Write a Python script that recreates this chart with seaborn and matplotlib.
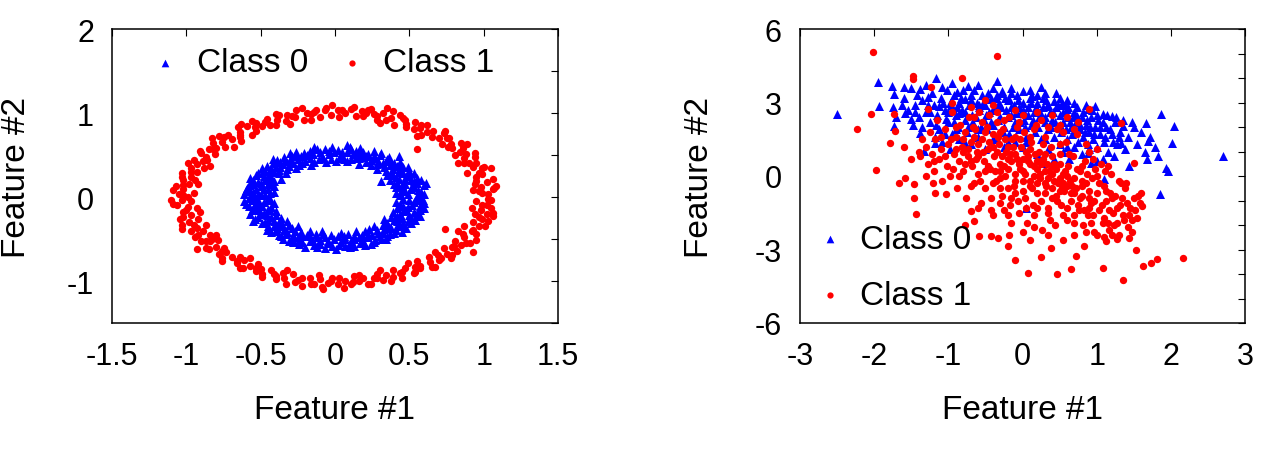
import matplotlib
matplotlib.use("Agg")
import matplotlib.pyplot as plt
import seaborn as sns
import pandas as pd

# ---------------- data: left panel (two rings) ----------------
rings_class0 = [
    (0.55, 0.01), (0.44, 0.02), (0.60, 0.04), (0.49, 0.04), (0.41, 0.05), (0.56, 0.08), (0.51, 0.09), (0.45, 0.09),
    (0.60, 0.14), (0.52, 0.13), (0.41, 0.12), (0.55, 0.17), (0.47, 0.16), (0.53, 0.19), (0.42, 0.17), (0.55, 0.23),
    (0.47, 0.22), (0.43, 0.21), (0.50, 0.27), (0.37, 0.20), (0.46, 0.28), (0.50, 0.31), (0.39, 0.26), (0.43, 0.30),
    (0.35, 0.26), (0.46, 0.36), (0.39, 0.33), (0.42, 0.37), (0.34, 0.31), (0.44, 0.42), (0.37, 0.38), (0.33, 0.36),
    (0.37, 0.43), (0.28, 0.33), (0.34, 0.43), (0.36, 0.48), (0.28, 0.39), (0.29, 0.43), (0.24, 0.38), (0.30, 0.50),
    (0.24, 0.44), (0.26, 0.49), (0.21, 0.42), (0.26, 0.55), (0.21, 0.49), (0.16, 0.39), (0.19, 0.54), (0.16, 0.46),
    (0.16, 0.52), (0.17, 0.58), (0.11, 0.45), (0.12, 0.51), (0.11, 0.57), (0.08, 0.43), (0.08, 0.54), (0.08, 0.62),
    (0.04, 0.50), (0.03, 0.47), (0.02, 0.56), (0.01, 0.43), (0.43, 0.49), (0.31, 0.19), (0.61, 0.17),
    (-0.01, 0.53), (-0.02, 0.59), (-0.03, 0.45), (-0.04, 0.51), (-0.07, 0.57), (-0.06, 0.42), (-0.10, 0.54),
    (-0.09, 0.48), (-0.14, 0.59), (-0.11, 0.45), (-0.15, 0.51), (-0.17, 0.55), (-0.14, 0.42), (-0.17, 0.47),
    (-0.21, 0.52), (-0.16, 0.38), (-0.23, 0.49), (-0.26, 0.54), (-0.22, 0.41), (-0.25, 0.45), (-0.29, 0.49),
    (-0.24, 0.38), (-0.28, 0.41), (-0.34, 0.48), (-0.26, 0.34), (-0.33, 0.43), (-0.31, 0.37), (-0.37, 0.42),
    (-0.42, 0.45), (-0.32, 0.33), (-0.37, 0.36), (-0.42, 0.40), (-0.33, 0.29), (-0.38, 0.32), (-0.43, 0.34),
    (-0.38, 0.28), (-0.49, 0.34), (-0.44, 0.30), (-0.36, 0.22), (-0.49, 0.29), (-0.43, 0.24), (-0.48, 0.25),
    (-0.53, 0.26), (-0.41, 0.19), (-0.47, 0.20), (-0.57, 0.23), (-0.45, 0.16), (-0.52, 0.18), (-0.41, 0.13),
    (-0.56, 0.16), (-0.50, 0.13), (-0.45, 0.10), (-0.59, 0.11), (-0.53, 0.09), (-0.41, 0.06), (-0.57, 0.07),
    (-0.50, 0.04), (-0.61, 0.04), (-0.47, 0.02), (-0.55, 0.01),
    (-0.58, -0.01), (-0.44, -0.02), (-0.52, -0.04), (-0.61, -0.05), (-0.48, -0.06), (-0.54, -0.08), (-0.41, -0.07),
    (-0.58, -0.11), (-0.49, -0.11), (-0.54, -0.14), (-0.43, -0.12), (-0.51, -0.15), (-0.57, -0.20), (-0.44, -0.16),
    (-0.50, -0.20), (-0.40, -0.17), (-0.52, -0.24), (-0.46, -0.22), (-0.55, -0.29), (-0.40, -0.22), (-0.45, -0.27),
    (-0.49, -0.31), (-0.36, -0.25), (-0.41, -0.29), (-0.45, -0.34), (-0.38, -0.30), (-0.46, -0.39), (-0.32, -0.28),
    (-0.39, -0.37), (-0.35, -0.34), (-0.40, -0.41), (-0.31, -0.33), (-0.34, -0.39), (-0.38, -0.45), (-0.29, -0.37),
    (-0.33, -0.44), (-0.35, -0.50), (-0.25, -0.35), (-0.28, -0.45), (-0.29, -0.49), (-0.23, -0.42), (-0.28, -0.53),
    (-0.22, -0.46), (-0.24, -0.51), (-0.17, -0.41), (-0.22, -0.54), (-0.17, -0.47), (-0.20, -0.59), (-0.13, -0.44),
    (-0.15, -0.52), (-0.14, -0.57), (-0.09, -0.41), (-0.10, -0.51), (-0.10, -0.56), (-0.07, -0.48), (-0.07, -0.61),
    (-0.05, -0.55), (-0.03, -0.45), (-0.02, -0.58), (-0.01, -0.50),
    (0.01, -0.62), (0.02, -0.47), (0.04, -0.54), (0.04, -0.43), (0.07, -0.58), (0.07, -0.50), (0.10, -0.55),
    (0.09, -0.44), (0.13, -0.58), (0.13, -0.50), (0.13, -0.46), (0.17, -0.55), (0.14, -0.40), (0.19, -0.52),
    (0.18, -0.45), (0.24, -0.56), (0.22, -0.48), (0.20, -0.41), (0.27, -0.51), (0.25, -0.45), (0.23, -0.38),
    (0.30, -0.47), (0.34, -0.50), (0.28, -0.39), (0.32, -0.43), (0.26, -0.34), (0.37, -0.44), (0.33, -0.38),
    (0.40, -0.43), (0.32, -0.33), (0.38, -0.37), (0.45, -0.42), (0.35, -0.31), (0.42, -0.35), (0.33, -0.26),
    (0.46, -0.35), (0.42, -0.29), (0.46, -0.31), (0.38, -0.24), (0.51, -0.31), (0.45, -0.25), (0.42, -0.23),
    (0.51, -0.25), (0.39, -0.18), (0.50, -0.21), (0.57, -0.23), (0.46, -0.17), (0.53, -0.18), (0.42, -0.13),
    (0.57, -0.16), (0.49, -0.12), (0.46, -0.11), (0.57, -0.11), (0.52, -0.09), (0.41, -0.06), (0.60, -0.07),
    (0.50, -0.04), (0.55, -0.04), (0.46, -0.02), (0.57, -0.01), (0.545, -0.23),
    (0.58, 0.06), (0.47, 0.07), (0.53, 0.12), (0.58, 0.20), (0.45, 0.14), (0.51, 0.20), (0.40, 0.16), (0.48, 0.25),
    (0.53, 0.28), (0.41, 0.24), (0.44, 0.34), (0.49, 0.36), (0.38, 0.30), (0.40, 0.40), (0.32, 0.40), (0.35, 0.45),
    (0.27, 0.46), (0.31, 0.52), (0.22, 0.51), (0.19, 0.48), (0.14, 0.55), (0.14, 0.47), (0.10, 0.60), (0.05, 0.54),
    (0.06, 0.45), (-0.04, 0.55), (-0.08, 0.46), (-0.12, 0.57), (-0.19, 0.50), (-0.20, 0.43), (-0.27, 0.50),
    (-0.30, 0.44), (-0.35, 0.39), (-0.39, 0.44), (-0.40, 0.36), (-0.46, 0.37), (-0.41, 0.30), (-0.47, 0.31),
    (-0.52, 0.28), (-0.45, 0.23), (-0.55, 0.20), (-0.50, 0.17), (-0.43, 0.15), (-0.58, 0.14), (-0.48, 0.09),
    (-0.55, 0.06), (-0.60, 0.08), (-0.44, 0.05), (-0.52, 0.02), (-0.30, 0.52), (-0.56, -0.03), (-0.46, -0.04),
    (-0.60, -0.08), (-0.51, -0.09), (-0.45, -0.14), (-0.56, -0.16), (-0.48, -0.19), (-0.54, -0.26), (-0.43, -0.24),
    (-0.47, -0.30), (-0.41, -0.35), (-0.36, -0.32), (-0.43, -0.42), (-0.32, -0.42), (-0.36, -0.47), (-0.27, -0.40),
    (-0.31, -0.52), (-0.25, -0.48), (-0.19, -0.45), (-0.24, -0.56), (-0.17, -0.52), (-0.12, -0.48), (-0.12, -0.60),
    (-0.05, -0.52), (-0.08, -0.44), (0.03, -0.57), (0.06, -0.46), (0.10, -0.60), (0.11, -0.52), (0.16, -0.48),
    (0.20, -0.57), (0.22, -0.44), (0.26, -0.53), (0.29, -0.43), (0.31, -0.50), (0.35, -0.46), (0.36, -0.36),
    (0.41, -0.39), (0.44, -0.33), (0.48, -0.37), (0.40, -0.27), (0.49, -0.28), (0.54, -0.27), (0.44, -0.20),
    (0.55, -0.19), (0.48, -0.15), (0.60, -0.13), (0.53, -0.06), (0.44, -0.08), (0.59, -0.03),
]

rings_class1 = [
    (1.03, 0.04), (0.97, 0.07), (1.06, 0.09), (0.98, 0.12), (0.94, 0.15), (1.02, 0.18), (1.06, 0.22), (0.95, 0.24),
    (0.97, 0.28), (0.89, 0.29), (0.99, 0.34), (0.93, 0.36), (0.95, 0.40), (0.87, 0.41), (0.94, 0.48), (0.87, 0.46),
    (0.88, 0.51), (0.81, 0.50), (0.86, 0.58), (0.79, 0.58), (0.85, 0.64), (0.78, 0.63), (0.72, 0.63), (0.75, 0.70),
    (0.70, 0.70), (0.73, 0.76), (0.65, 0.72), (0.66, 0.78), (0.58, 0.74), (0.62, 0.86), (0.57, 0.82), (0.53, 0.81),
    (0.54, 0.89), (0.48, 0.87), (0.47, 0.92), (0.40, 0.86), (0.44, 0.98), (0.38, 0.94), (0.34, 0.92), (0.32, 1.00),
    (0.28, 0.92), (0.26, 0.99), (0.24, 1.05), (0.19, 0.97), (0.18, 1.02), (0.14, 0.96), (0.11, 1.05), (0.07, 1.00),
    (0.03, 0.95), (0.02, 1.03), (0.55, 0.57), (0.35, 1.06), (0.22, 1.04), (1.085, 0.13),
    (-0.02, 1.10), (-0.03, 0.98), (-0.07, 1.03), (-0.10, 0.95), (-0.13, 1.04), (-0.16, 0.99), (-0.19, 1.00),
    (-0.21, 0.92), (-0.26, 1.03), (-0.27, 0.95), (-0.32, 0.98), (-0.33, 0.91), (-0.38, 0.98), (-0.39, 0.92),
    (-0.40, 0.86), (-0.46, 0.93), (-0.47, 0.89), (-0.49, 0.84), (-0.56, 0.90), (-0.54, 0.83), (-0.59, 0.84),
    (-0.56, 0.74), (-0.65, 0.83), (-0.64, 0.77), (-0.64, 0.71), (-0.72, 0.74), (-0.69, 0.69), (-0.78, 0.73),
    (-0.76, 0.66), (-0.74, 0.60), (-0.82, 0.64), (-0.80, 0.58), (-0.85, 0.57), (-0.81, 0.51), (-0.91, 0.55),
    (-0.87, 0.48), (-0.86, 0.44), (-0.95, 0.44), (-0.93, 0.39), (-0.88, 0.34), (-0.97, 0.35), (-0.93, 0.30),
    (-1.03, 0.29), (-0.97, 0.24), (-0.94, 0.20), (-1.02, 0.20), (-0.98, 0.15), (-1.07, 0.13), (-1.02, 0.09),
    (-0.95, 0.05), (-1.05, 0.04), (-0.99, 0.00), (-1.10, -0.03), (-0.68, 0.59),
    (-1.03, -0.04), (-0.97, -0.05), (-1.06, -0.09), (-0.99, -0.12), (-0.93, -0.13), (-1.02, -0.18), (-0.97, -0.21),
    (-1.04, -0.26), (-0.92, -0.26), (-0.98, -0.30), (-0.95, -0.33), (-0.87, -0.33), (-0.97, -0.41), (-0.89, -0.41),
    (-0.92, -0.45), (-0.84, -0.45), (-0.90, -0.52), (-0.84, -0.52), (-0.79, -0.51), (-0.87, -0.61), (-0.80, -0.60),
    (-0.75, -0.61), (-0.78, -0.68), (-0.73, -0.66), (-0.76, -0.73), (-0.69, -0.72), (-0.64, -0.71), (-0.66, -0.78),
    (-0.61, -0.75), (-0.64, -0.85), (-0.57, -0.82), (-0.52, -0.80), (-0.53, -0.88), (-0.50, -0.86), (-0.49, -0.92),
    (-0.43, -0.87), (-0.41, -0.92), (-0.40, -0.98), (-0.35, -0.91), (-0.34, -0.97), (-0.28, -0.92), (-0.27, -1.01),
    (-0.22, -0.97), (-0.22, -1.06), (-0.17, -0.96), (-0.14, -1.03), (-0.10, -0.98), (-0.09, -1.07), (-0.05, -1.02),
    (-0.02, -0.96), (-0.93, -0.62), (-0.83, -0.50),
    (0.02, -1.03), (0.03, -0.97), (0.07, -1.00), (0.11, -1.04), (0.13, -0.94), (0.16, -1.00), (0.19, -0.96),
    (0.24, -1.03), (0.26, -0.97), (0.28, -0.92), (0.32, -0.99), (0.34, -0.93), (0.39, -0.95), (0.39, -0.87),
    (0.45, -0.96), (0.45, -0.89), (0.47, -0.85), (0.54, -0.89), (0.54, -0.83), (0.57, -0.85), (0.55, -0.76),
    (0.65, -0.83), (0.64, -0.77), (0.63, -0.72), (0.70, -0.75), (0.69, -0.69), (0.78, -0.73), (0.75, -0.68),
    (0.73, -0.61), (0.82, -0.64), (0.80, -0.58), (0.85, -0.57), (0.81, -0.52), (0.91, -0.55), (0.87, -0.48),
    (0.86, -0.44), (0.95, -0.44), (0.93, -0.39), (0.87, -0.35), (0.97, -0.35), (0.93, -0.30), (1.03, -0.29),
    (0.97, -0.24), (0.94, -0.20), (1.02, -0.20), (0.98, -0.15), (1.05, -0.13), (1.02, -0.09), (0.95, -0.05),
    (1.05, -0.04), (0.74, -0.385), (0.93, -0.66), (1.06, -0.23),
    (0.99, 0.05), (1.07, 0.11), (0.95, 0.19), (0.99, 0.27), (1.00, 0.36), (0.90, 0.40), (0.94, 0.52), (0.84, 0.54),
    (0.76, 0.59), (0.77, 0.70), (0.74, 0.79), (0.62, 0.77), (0.58, 0.86), (0.48, 0.83), (0.46, 0.94), (0.39, 1.02),
    (0.28, 0.96), (0.21, 1.00), (0.13, 1.07), (0.05, 1.04), (0.93, 0.08), (0.83, 0.40), (0.55, 0.73), (0.30, 0.88),
    (0.89, 0.63), (1.05, 0.34),
    (-0.06, 1.06), (-0.14, 1.01), (-0.22, 1.06), (-0.29, 0.96), (-0.40, 0.99), (-0.44, 0.86), (-0.53, 0.88),
    (-0.63, 0.87), (-0.64, 0.74), (-0.75, 0.72), (-0.83, 0.70), (-0.82, 0.57), (-0.90, 0.52), (-0.89, 0.43),
    (-0.99, 0.40), (-0.97, 0.30), (-1.03, 0.24), (-1.02, 0.14), (-1.09, 0.08), (-1.02, 0.02), (-0.30, 0.87),
    (-0.63, 0.67), (-0.84, 0.37), (-0.92, 0.16), (-0.53, 0.78), (-0.16, 0.92),
    (-1.09, -0.08), (-1.00, -0.16), (-1.02, -0.24), (-1.03, -0.33), (-0.93, -0.37), (-0.94, -0.48), (-0.87, -0.52),
    (-0.85, -0.62), (-0.76, -0.64), (-0.76, -0.76), (-0.66, -0.76), (-0.62, -0.85), (-0.53, -0.85), (-0.49, -0.95),
    (-0.40, -0.94), (-0.33, -1.03), (-0.25, -0.99), (-0.16, -1.04), (-0.08, -1.09), (-0.03, -1.00), (-0.91, -0.18),
    (-0.80, -0.45), (-0.57, -0.73), (-0.32, -0.87), (-0.11, -0.93), (-1.03, -0.38),
    (0.06, -1.08), (0.12, -1.01), (0.22, -1.04), (0.28, -0.97), (0.38, -1.00), (0.44, -0.91), (0.53, -0.91),
    (0.57, -0.82), (0.67, -0.83), (0.71, -0.73), (0.79, -0.69), (0.79, -0.60), (0.88, -0.55), (0.95, -0.51),
    (0.92, -0.41), (1.01, -0.35), (0.99, -0.26), (1.06, -0.19), (0.99, -0.10), (1.03, -0.02), (0.30, -0.87),
    (0.49, -0.78), (0.67, -0.65), (0.83, -0.40), (0.92, -0.13), (0.16, -0.93),
]

# ---------------- data: right panel (two overlapping blobs) ----------------
blobs_class0 = [
    (-2.50, 2.52), (-1.95, 3.82), (-1.93, 2.84), (-1.76, 3.68), (-1.73, 3.34), (-1.74, 2.80), (-1.73, 2.05),
    (-1.60, 3.62), (-1.58, 2.59), (-1.51, 2.32), (-1.38, 3.55), (-1.38, 1.77), (-1.28, 3.21), (-1.17, 4.02),
    (-1.13, 2.86), (-1.08, 3.62), (-1.03, 2.32), (-0.98, 3.00), (-0.88, 3.41), (-0.85, 2.59), (-0.78, 3.14),
    (-0.73, 3.68), (-0.68, 2.18), (-0.58, 2.80), (-0.48, 3.14), (-0.35, 3.89), (-0.33, 2.86), (-0.28, 3.48),
    (-0.18, 3.14), (-0.08, 2.59), (0.00, 3.48), (0.13, 3.27), (0.25, 3.62), (0.33, 2.86), (0.43, 3.07),
    (0.53, 3.00), (0.60, 2.73), (0.73, 2.46), (0.88, 2.73), (0.98, 2.86), (1.08, 2.52), (1.21, 2.46),
    (1.36, 2.05), (1.51, 1.98), (1.67, 2.18), (1.69, 1.43), (1.87, 2.52), (2.04, 2.05), (2.01, 1.36),
    (1.93, 0.34), (1.96, 0.20), (1.86, -0.75), (1.68, 0.68), (1.83, 0.82), (2.71, 0.82), (1.43, 0.41),
    (1.10, -0.14), (0.05, -1.30), (1.08, 0.68), (0.93, 0.55), (0.88, 0.95), (1.33, 1.36), (1.23, 0.82),
    (-1.33, 1.02), (-1.18, 1.36), (-0.98, 1.09), (-0.78, 1.36), (-0.48, 0.41), (0.28, 0.55), (0.43, 0.68),
    (0.63, 0.68),
    (-1.45, 2.9), (-1.40, 2.4), (-1.35, 3.1), (-1.30, 2.6), (-1.25, 2.2), (-1.22, 3.4), (-1.20, 2.9),
    (-1.15, 2.5), (-1.12, 1.9), (-1.10, 3.2), (-1.05, 2.7), (-1.02, 3.5), (-1.00, 2.2), (-0.97, 2.9),
    (-0.95, 1.7), (-0.92, 3.3), (-0.90, 2.5), (-0.87, 2.0), (-0.85, 3.0), (-0.82, 2.7), (-0.80, 3.5),
    (-0.78, 2.3), (-0.75, 1.8), (-0.72, 2.9), (-0.70, 3.3), (-0.68, 2.5), (-0.65, 2.1), (-0.62, 3.0),
    (-0.60, 1.6), (-0.58, 2.7), (-0.55, 3.3), (-0.52, 2.3), (-0.50, 2.9), (-0.48, 1.9), (-0.45, 2.6),
    (-0.42, 3.2), (-0.40, 2.1), (-0.38, 2.8), (-0.35, 1.5), (-0.32, 3.0), (-0.30, 2.4), (-0.28, 3.4),
    (-0.25, 2.0), (-0.22, 2.7), (-0.20, 3.1), (-0.18, 1.7), (-0.15, 2.5), (-0.12, 2.9), (-0.10, 2.2),
    (-0.08, 3.3), (-0.05, 1.9), (-0.02, 2.6), (0.00, 3.0), (0.02, 2.3), (0.05, 1.6), (0.07, 2.8),
    (0.10, 3.2), (0.12, 2.1), (0.15, 2.6), (0.17, 1.8), (0.20, 3.0), (0.22, 2.4), (0.25, 1.5),
    (0.27, 2.8), (0.30, 2.2), (0.32, 3.1), (0.35, 1.9), (0.37, 2.6), (0.40, 2.3), (0.42, 1.6),
    (0.45, 2.8), (0.47, 2.0), (0.50, 2.5), (0.52, 1.8), (0.55, 2.2), (0.57, 2.9), (0.60, 1.5),
    (0.62, 2.4), (0.65, 2.0), (0.67, 1.7), (0.70, 2.6), (0.72, 2.2), (0.75, 1.4), (0.78, 1.9),
    (0.80, 2.4), (0.82, 1.6), (0.85, 2.1), (0.88, 1.3), (0.90, 1.8), (0.92, 2.4), (0.95, 1.5),
    (0.98, 2.0), (1.00, 1.2), (1.02, 2.3), (1.05, 1.7), (1.10, 1.4), (1.12, 2.0), (1.15, 1.0),
    (1.20, 1.7), (1.25, 2.2), (1.28, 1.3), (1.32, 1.8), (1.38, 1.1), (1.42, 1.6), (1.47, 2.2),
    (1.55, 1.3), (1.60, 1.8), (1.65, 1.0), (1.72, 1.6), (1.78, 1.2), (-1.60, 3.2), (-1.55, 2.7),
    (-1.50, 3.6), (-1.48, 2.1), (-1.42, 3.3), (-1.30, 3.7), (-1.18, 1.6), (-1.08, 1.4), (-0.95, 3.8),
    (-0.60, 3.7), (-0.40, 3.6), (-0.15, 3.6), (0.10, 3.5), (0.30, 3.4), (0.50, 3.2), (0.70, 3.0),
    (-0.25, 1.2), (0.00, 1.2), (0.35, 1.1), (0.55, 1.0), (-0.70, 1.3), (-0.50, 1.1), (0.20, 0.9),
    (0.80, 0.9), (1.00, 0.6), (0.60, 1.2), (-0.10, 1.4), (-0.85, 1.5), (0.45, 3.4), (-0.05, 2.8),
    (-1.35, 2.0), (-1.27, 2.9), (-1.17, 2.1), (-1.07, 3.0), (-1.00, 2.6), (-0.93, 2.2), (-0.88, 2.8),
    (-0.83, 3.2), (-0.77, 2.6), (-0.73, 2.0), (-0.69, 3.1), (-0.63, 2.4), (-0.59, 2.9), (-0.56, 2.0),
    (-0.53, 3.0), (-0.49, 2.5), (-0.46, 3.4), (-0.43, 2.2), (-0.39, 2.7), (-0.36, 3.2), (-0.33, 2.3),
    (-0.29, 2.8), (-0.26, 1.8), (-0.23, 3.2), (-0.19, 2.4), (-0.16, 2.8), (-0.13, 2.0), (-0.09, 2.6),
    (-0.06, 3.1), (-0.03, 2.2), (0.01, 2.7), (0.04, 2.0), (0.08, 2.5), (0.11, 3.0), (0.14, 2.3),
    (0.18, 2.8), (0.21, 2.0), (0.24, 2.6), (0.28, 3.2), (0.31, 2.4), (0.34, 2.9), (0.38, 2.0),
    (0.41, 2.6), (0.44, 2.2), (0.48, 2.9), (0.51, 2.1), (0.54, 2.6), (0.58, 1.9), (0.61, 2.8),
    (0.64, 2.2), (0.68, 2.4), (0.71, 1.8), (0.74, 2.8), (0.77, 2.1), (0.81, 2.6), (0.84, 1.8),
    (0.87, 2.3), (0.91, 2.0), (0.94, 2.7), (0.97, 1.7), (1.01, 2.5), (1.04, 2.0), (1.08, 2.2),
    (1.11, 1.6), (1.14, 2.5), (1.18, 1.9), (1.22, 1.4), (1.26, 2.4), (1.30, 1.6), (1.35, 2.3),
    (-0.40, 1.5), (-0.20, 1.4), (0.05, 1.4), (0.30, 1.5), (0.50, 1.3), (0.70, 1.2), (0.90, 1.1),
    (-0.60, 1.9), (-0.90, 1.9), (-1.25, 2.6), (-1.05, 1.7), (-0.15, 3.4), (0.20, 3.3), (-0.65, 3.5),
    (-0.35, 3.3), (0.60, 3.1), (0.85, 2.9), (-1.45, 2.6), (-1.62, 2.9), (-1.70, 2.4),
]

blobs_class1 = [
    (-2.01, 5.05), (-0.34, 4.91), (-1.47, 4.09), (-1.47, 3.96), (-0.82, 4.02), (-1.23, 3.62), (-2.04, 2.52),
    (-2.23, 1.91), (-1.73, 2.52), (-1.72, 1.84), (-1.78, 1.36), (-1.98, 0.25), (-1.66, -0.27), (-1.58, -0.07),
    (-1.46, -0.34), (-1.46, -0.89), (-1.43, -1.57), (-1.51, 0.68), (-1.38, 0.82), (-1.21, -0.27), (-1.18, -0.68),
    (-1.03, -0.75), (-1.28, 2.73), (-0.70, -1.43), (-0.65, -1.84), (-0.78, -1.98), (-0.58, -2.43), (-0.43, -2.46),
    (-0.33, -2.52), (-0.18, -2.39), (-0.20, -2.86), (-0.10, -3.41), (0.08, -3.96), (0.25, -3.30), (0.38, -2.93),
    (0.47, -4.02), (0.65, -3.79), (0.72, -3.27), (0.83, -2.86), (1.08, -3.75), (1.13, -2.66), (1.28, -2.59),
    (1.36, -4.23), (1.43, -2.52), (1.53, -3.00), (1.63, -3.68), (1.73, -3.55), (1.81, -3.38), (2.16, -3.34),
    (1.56, -0.82), (1.61, -1.23), (1.51, 0.55), (1.33, 2.18), (0.90, 2.73), (1.11, 0.20), (1.18, -0.68),
    (1.33, -0.27),
    (-1.30, 1.2), (-1.28, 0.5), (-1.25, 1.8), (-1.22, 0.9), (-1.20, 0.2), (-1.18, 1.5), (-1.15, 2.3),
    (-1.12, 0.7), (-1.10, 1.1), (-1.08, -0.2), (-1.05, 1.9), (-1.02, 0.4), (-1.00, 1.3), (-0.98, 0.0),
    (-0.95, 2.6), (-0.93, 0.9), (-0.90, 1.6), (-0.88, -0.5), (-0.86, 0.6), (-0.84, 2.1), (-0.82, 1.2),
    (-0.80, 0.2), (-0.78, 1.8), (-0.76, -0.9), (-0.74, 0.8), (-0.72, 2.4), (-0.70, 1.4), (-0.68, 0.4),
    (-0.66, -0.3), (-0.64, 1.9), (-0.62, 1.0), (-0.60, 0.1), (-0.58, 2.6), (-0.56, -1.1), (-0.54, 1.5),
    (-0.52, 0.6), (-0.50, -0.5), (-0.48, 2.0), (-0.46, 1.1), (-0.44, 0.3), (-0.42, -1.4), (-0.40, 1.7),
    (-0.38, 0.8), (-0.36, -0.2), (-0.34, 2.2), (-0.32, 1.3), (-0.30, 0.5), (-0.28, -0.8), (-0.26, 1.9),
    (-0.24, 0.0), (-0.22, 1.0), (-0.20, -1.6), (-0.18, 2.4), (-0.16, 0.6), (-0.14, 1.5), (-0.12, -0.4),
    (-0.10, 0.9), (-0.08, 2.0), (-0.06, -1.0), (-0.04, 0.3), (-0.02, 1.2), (0.00, -0.6), (0.02, 1.8),
    (0.04, 0.1), (0.06, -1.9), (0.08, 0.8), (0.10, -0.2), (0.12, 1.4), (0.14, -1.2), (0.16, 0.4),
    (0.18, 2.1), (0.20, -0.7), (0.22, 1.0), (0.24, -0.1), (0.26, -2.2), (0.28, 0.7), (0.30, 1.6),
    (0.32, -0.4), (0.34, -1.5), (0.36, 0.2), (0.38, 1.2), (0.40, -0.9), (0.42, 0.5), (0.44, -2.0),
    (0.46, 1.9), (0.48, -0.3), (0.50, 0.9), (0.52, -1.2), (0.54, 0.1), (0.56, -0.6), (0.58, 1.4),
    (0.60, -1.8), (0.62, 0.4), (0.64, -0.2), (0.66, -1.0), (0.68, 0.8), (0.70, -2.4), (0.72, -0.5),
    (0.74, 1.7), (0.76, -1.4), (0.78, 0.2), (0.80, -0.8), (0.82, -2.0), (0.84, 0.6), (0.86, -0.3),
    (0.88, -1.6), (0.90, 1.0), (0.92, -1.1), (0.94, -0.1), (0.96, -2.3), (0.98, 0.3), (1.00, -0.7),
    (1.03, -1.4), (1.06, 0.5), (1.08, -1.9), (1.10, -0.4), (1.13, -1.0), (1.16, -2.2), (1.19, 0.1),
    (1.22, -1.5), (1.25, -0.8), (1.28, -1.9), (1.31, -1.2), (1.35, -1.6), (1.38, -0.5), (1.42, -2.1),
    (1.45, -1.3), (1.48, -1.8), (1.52, -1.4), (1.58, -1.1),
    (-0.35, 1.0), (-0.25, 0.4), (-0.15, 0.9), (-0.05, 0.5), (0.05, 1.0), (0.15, 0.0), (0.25, 0.5),
    (0.35, -0.1), (0.45, 0.3), (0.55, -0.3), (-0.45, 1.4), (-0.30, 1.8), (-0.20, 1.2), (-0.10, 1.6),
    (0.00, 0.7), (0.10, 1.1), (0.20, 0.3), (0.30, 0.9), (0.40, 0.1), (0.50, 0.5), (-0.60, 0.8),
    (-0.50, 0.2), (-0.40, -0.3), (-0.30, -0.1), (-0.20, -0.5), (-0.10, 0.1), (0.00, -0.2), (0.10, 0.5),
    (0.20, -0.3), (0.30, 0.2), (0.40, -0.5), (0.50, -0.1), (0.60, -0.4), (0.70, -0.1), (0.80, -0.4),
    (0.65, -0.7), (0.45, -0.8), (0.25, -1.0), (0.05, -1.3), (-0.15, -0.9), (-0.80, 1.0), (-0.70, 0.6),
    (-0.90, 2.0), (-0.65, 1.6), (-0.55, 2.2), (-0.45, 2.5), (-0.25, 2.3), (-0.05, 2.2), (0.15, 1.9),
    (0.35, 2.0), (0.55, 1.8), (0.75, 2.2), (0.60, 2.4), (0.40, 2.5), (0.20, 2.6), (-0.10, 2.7),
    (-0.40, 2.9), (-0.70, 2.8), (-0.95, 3.0), (-0.50, 3.1), (0.35, -2.4), (0.15, -2.1), (0.00, -2.3),
    (-0.15, -1.9), (0.55, -2.6), (0.85, -2.3), (1.00, -2.4), (1.20, -2.4), (0.10, -2.6), (-0.40, -1.6),
    (-0.60, -1.3), (-0.30, -1.1), (0.90, -1.3), (1.10, -1.7), (0.70, -1.6), (1.30, -0.2), (1.15, 0.4),
    (0.95, 0.7), (0.85, 1.3), (1.00, 1.1),
    (-1.20, 0.6), (-1.10, 1.6), (-1.05, 0.8), (-0.97, 1.5), (-0.94, 0.3), (-0.90, 1.1), (-0.85, 0.0),
    (-0.80, 1.5), (-0.77, 0.5), (-0.73, 1.1), (-0.70, -0.4), (-0.67, 2.0), (-0.63, 0.7), (-0.60, 1.3),
    (-0.57, -0.2), (-0.53, 1.0), (-0.50, 1.8), (-0.47, 0.4), (-0.43, -0.9), (-0.40, 1.2), (-0.37, 0.2),
    (-0.33, 1.6), (-0.30, -0.5), (-0.27, 0.8), (-0.23, 1.5), (-0.20, 0.3), (-0.17, -1.2), (-0.13, 1.2),
    (-0.10, -0.2), (-0.07, 0.7), (-0.03, 1.5), (0.00, 0.2), (0.03, -0.9), (0.07, 0.6), (0.10, 1.6),
    (0.13, -0.5), (0.17, 0.9), (0.20, -1.3), (0.23, 0.1), (0.27, 1.3), (0.30, -0.7), (0.33, 0.5),
    (0.37, -1.8), (0.40, 0.8), (0.43, -0.2), (0.47, -1.0), (0.50, 1.3), (0.53, -0.5), (0.57, 0.2),
    (0.60, -1.3), (0.63, 0.9), (0.67, -0.4), (0.70, -1.9), (0.73, 0.3), (0.77, -0.9), (0.80, -0.2),
    (0.83, -1.4), (0.87, 0.1), (0.90, -0.6), (0.93, -1.9), (0.97, -1.0), (1.00, 0.0), (1.03, -0.3),
    (1.07, -1.2), (1.10, -2.5), (1.13, -0.6), (1.17, -1.4), (1.20, -0.9), (1.24, -2.0), (1.27, -1.3),
    (1.30, -2.4), (1.34, -0.9), (1.37, -1.8), (1.41, -1.1), (1.44, -1.6), (1.47, -2.3), (1.50, -0.9),
    (1.55, -1.7), (1.60, -0.7), (1.40, -0.3), (-0.30, 0.2), (-0.20, 0.7), (-0.10, -0.7), (0.10, -0.4),
    (0.20, 0.6), (0.30, -0.3), (0.40, 0.4), (0.50, -0.6), (0.60, 0.0), (0.70, -0.7), (0.80, 0.4),
    (0.90, -0.9), (0.35, -1.3), (0.55, -1.6), (0.15, -1.6), (-0.05, -1.5), (-0.25, -1.4), (0.75, -1.2),
    (0.95, -1.6), (1.15, -1.9), (-1.30, 0.0), (-1.40, 1.0), (-1.35, 1.5), (-1.60, 1.2), (-0.65, 2.4),
    (-0.35, 2.6), (0.00, 2.5), (0.25, 2.3), (0.50, 2.1), (0.70, 1.9),
]

class_names = ["Class 0", "Class 1"]
axis_labels = ["Feature #1", "Feature #2"]

left_xticks = [-1.5, -1.0, -0.5, 0.0, 0.5, 1.0, 1.5]
left_xticklabels = ["-1.5", "-1", "-0.5", "0", "0.5", "1", "1.5"]
left_yticks = [-1.5, -1.0, -0.5, 0.0, 0.5, 1.0, 1.5, 2.0]
left_yticklabels = ["", "-1", "", "0", "", "1", "", "2"]
right_xticks = [-3, -2, -1, 0, 1, 2, 3]
right_xticklabels = ["-3", "-2", "-1", "0", "1", "2", "3"]
right_yticks = [-6, -5, -4, -3, -2, -1, 0, 1, 2, 3, 4, 5, 6]
right_yticklabels = ["-6", "", "", "-3", "", "", "0", "", "", "3", "", "", "6"]

# ---------------- styling ----------------
sns.set_style("white")
plt.rcParams["font.family"] = ["Liberation Sans", "DejaVu Sans"]
plt.rcParams["text.color"] = "black"
plt.rcParams["axes.labelcolor"] = "black"
plt.rcParams["xtick.color"] = "black"
plt.rcParams["ytick.color"] = "black"

BLUE = "#0000ff"
RED = "#ff0000"
TICK_FS = 22
LABEL_FS = 24

fig = plt.figure(figsize=(12.66, 4.52), dpi=100)
ax1 = fig.add_axes([112 / 1266, 1 - 324 / 452, 446 / 1266, 294 / 452])
ax2 = fig.add_axes([800 / 1266, 1 - 324 / 452, 445 / 1266, 294 / 452])


def to_df(points, name):
    return pd.DataFrame({"x": [p[0] for p in points], "y": [p[1] for p in points], "cls": name})


def draw(ax, c0, c1):
    d0 = to_df(c0, class_names[0])
    d1 = to_df(c1, class_names[1])
    sns.scatterplot(data=d0, x="x", y="y", ax=ax, color=BLUE, marker="^", s=42,
                    linewidth=0, label=class_names[0])
    sns.scatterplot(data=d1, x="x", y="y", ax=ax, color=RED, marker="o", s=28,
                    linewidth=0, label=class_names[1])


draw(ax1, rings_class0, rings_class1)
draw(ax2, blobs_class0, blobs_class1)

ax1.set_xlim(-1.5, 1.5)
ax1.set_ylim(-1.5, 2.0)
ax1.set_xticks(left_xticks)
ax1.set_xticklabels(left_xticklabels)
ax1.set_yticks(left_yticks)
ax1.set_yticklabels(left_yticklabels)

ax2.set_xlim(-3, 3)
ax2.set_ylim(-6, 6)
ax2.set_xticks(right_xticks)
ax2.set_xticklabels(right_xticklabels)
ax2.set_yticks(right_yticks)
ax2.set_yticklabels(right_yticklabels)

for ax, ylab_x in ((ax1, -0.215), (ax2, -0.225)):
    for sp in ax.spines.values():
        sp.set_visible(True)
        sp.set_linewidth(1.1)
        sp.set_color("black")
    ax.tick_params(axis="both", which="both", direction="in", length=5, width=0.8,
                   top=True, right=True, labelsize=TICK_FS, pad=13, colors="black")
    ax.set_xlabel(axis_labels[0], fontsize=LABEL_FS)
    ax.set_ylabel(axis_labels[1], fontsize=LABEL_FS)
    ax.xaxis.set_label_coords(0.5, -0.295)
    ax.xaxis.label.set_va("center")
    ax.yaxis.set_label_coords(ylab_x, 0.5)
    ax.yaxis.label.set_va("center")

leg1 = ax1.legend(loc="center", bbox_to_anchor=(0.47, 0.885), ncol=2, frameon=False,
                  fontsize=LABEL_FS, handlelength=1.0, handletextpad=0.45, columnspacing=0.8,
                  borderpad=0, borderaxespad=0, markerscale=0.85)
leg2 = ax2.legend(loc="center left", bbox_to_anchor=(0.03, 0.19), ncol=1, frameon=False,
                  fontsize=LABEL_FS, handlelength=1.0, handletextpad=0.4, labelspacing=0.75,
                  borderpad=0, borderaxespad=0, markerscale=0.85)

fig.savefig("out.png", dpi=100)
